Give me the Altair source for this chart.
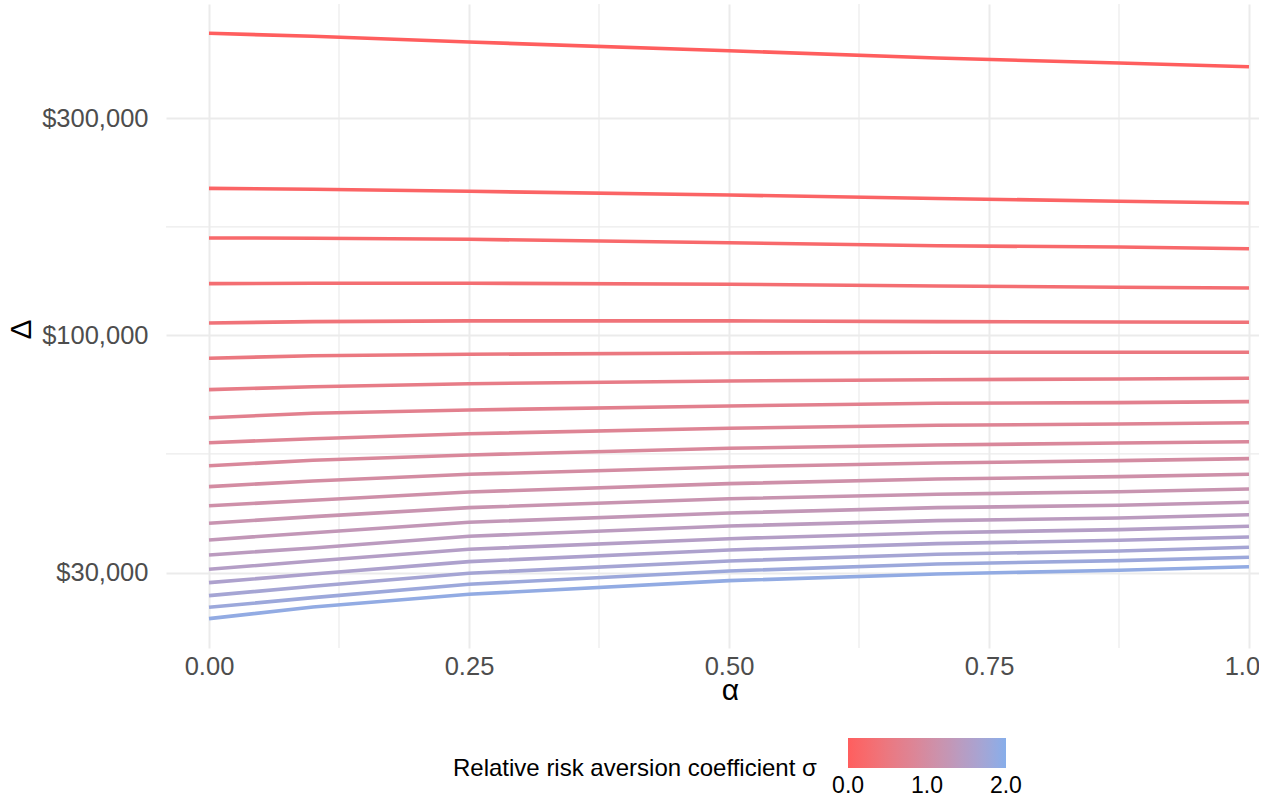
import altair as alt
import pandas as pd

# ---- data ----
alpha = [0.0, 0.1, 0.25, 0.5, 0.7, 0.875, 1.0]
sigma = [0.0, 0.1, 0.2, 0.3, 0.4, 0.5, 0.6, 0.7, 0.8, 0.9,
         1.0, 1.1, 1.2, 1.3, 1.4, 1.5, 1.6, 1.7, 1.8, 1.9]
delta = [
    [462000, 455000, 442000, 423000, 407600, 397400, 390000],
    [210500, 209500, 207400, 203500, 200000, 197200, 195500],
    [163700, 163500, 162600, 159800, 157300, 156400, 155000],
    [129900, 130100, 130100, 129500, 128300, 127500, 127000],
    [106400, 107100, 107500, 107500, 107100, 106900, 106800],
    [88960, 90130, 90770, 91370, 91700, 91700, 91700],
    [75860, 77020, 78200, 79280, 79800, 80090, 80370],
    [65820, 67310, 68440, 69850, 70810, 71030, 71390],
    [57980, 59170, 60680, 62370, 63320, 63740, 64160],
    [51600, 53030, 54480, 56360, 57310, 57890, 58280],
    [46400, 47760, 49400, 51270, 52320, 52930, 53470],
    [42130, 43300, 45160, 47110, 48240, 48810, 49400],
    [38530, 39850, 41710, 43650, 44640, 45230, 45860],
    [35410, 36740, 38730, 40600, 41710, 42220, 42870],
    [32820, 34000, 36080, 38010, 39050, 39580, 40250],
    [30520, 31830, 33780, 35640, 36740, 37310, 37960],
    [28520, 29800, 31720, 33660, 34750, 35350, 35950],
    [26700, 28000, 29910, 31830, 32930, 33490, 34120],
    [25170, 26430, 28290, 30260, 31350, 31880, 32440],
    [23760, 25210, 26890, 28810, 29800, 30370, 30920],
]
x_major = [0.0, 0.25, 0.5, 0.75, 1.0]
x_minor = [0.125, 0.375, 0.625, 0.875]
y_major = [30000, 100000, 300000]
y_minor = [54772, 173205]
legend_values = [0.0, 1.0, 2.0]

rows = [
    {"alpha": a, "sigma": s, "delta": d}
    for s, ds in zip(sigma, delta)
    for a, d in zip(alpha, ds)
]
df = pd.DataFrame(rows)

FONT = "Liberation Sans"
GRID = "#EBEBEB"
W, H = 1093, 644

xscale = alt.Scale(domain=[-0.04135, 1.00962], nice=False, zero=False)
yscale = alt.Scale(type="log", domain=[20476, 536000], nice=False)

xaxis = alt.Axis(
    values=x_major, format=".2f", title="α",
    labelPadding=6, titleX=564, titleY=42, titleBaseline="middle",
    titleAlign="center",
)
yaxis = alt.Axis(
    values=y_major, format="$,.0f", title="Δ",
    labelPadding=18, titleX=-145, titleY=325, titleBaseline="middle",
    titleAlign="center",
)

xminor = alt.Chart(pd.DataFrame({"x": x_minor})).mark_rule(
    color=GRID, strokeWidth=1.2
).encode(x=alt.X("x:Q", scale=xscale, axis=xaxis, title="α"))

yminor = alt.Chart(pd.DataFrame({"y": y_minor})).mark_rule(
    color=GRID, strokeWidth=1.2
).encode(y=alt.Y("y:Q", scale=yscale, axis=yaxis, title="Δ"))

lines = alt.Chart(df).mark_line(strokeWidth=3.6, clip=True).encode(
    x=alt.X("alpha:Q", scale=xscale, axis=xaxis, title="α"),
    y=alt.Y("delta:Q", scale=yscale, axis=yaxis, title="Δ"),
    color=alt.Color(
        "sigma:Q",
        scale=alt.Scale(domain=[-0.001, 2.001], range=["#FF5E5E", "#87AEEA"],
                        interpolate="lab", nice=False, zero=False),
        legend=alt.Legend(
            orient="none", legendX=287, legendY=734, direction="horizontal",
            title="Relative risk aversion coefficient σ", titleOrient="left",
            titleAnchor="middle", titleBaseline="line-top", titleLineHeight=32,
            titleLimit=800,
            titleFont=FONT, titleFontSize=24, titleFontWeight="normal",
            titleColor="#000000", titlePadding=31,
            gradientLength=158, gradientThickness=30, gradientStrokeWidth=0,
            values=legend_values, format=".1f",
            labelFont=FONT, labelFontSize=23, labelColor="#000000", labelOffset=7,
        ),
    ),
    detail="sigma:N",
    order="alpha:Q",
)

chart = alt.layer(xminor, yminor, lines).properties(
    width=W, height=H,
    padding={"left": 166, "top": 4, "right": 0, "bottom": 149},
    autosize=alt.AutoSizeParams(type="none"),
    background="white",
).configure_view(stroke=None).configure_axis(
    grid=True, gridColor=GRID, gridWidth=2, domain=False, ticks=False, tickSize=0,
    labelFont=FONT, labelFontSize=25.5, labelColor="#4D4D4D",
    titleFont=FONT, titleFontSize=30, titleFontWeight="normal", titleColor="#000000",
)

chart.save("out.html", embed_options={"renderer": "svg", "actions": False})
